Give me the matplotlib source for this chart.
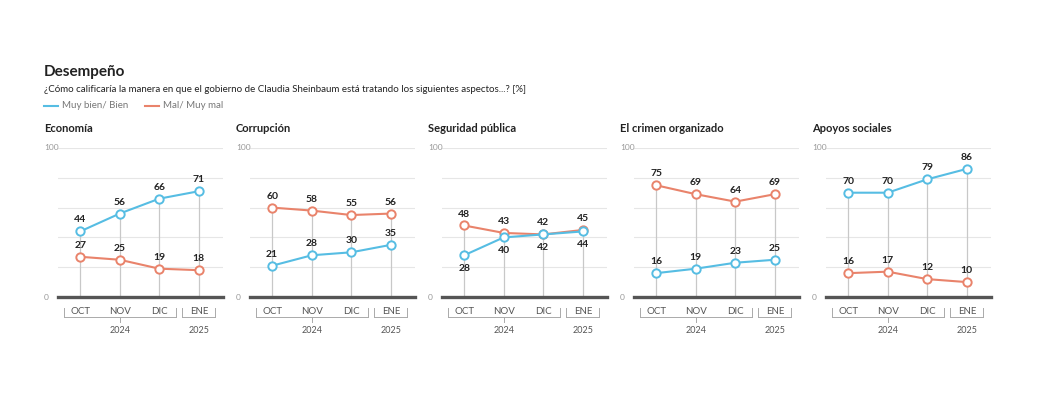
import matplotlib.pyplot as plt
from matplotlib.lines import Line2D
import matplotlib.transforms as mtransforms

titles = ["Economía", "Corrupción", "Seguridad pública", "El crimen organizado", "Apoyos sociales"]
months = ["OCT", "NOV", "DIC", "ENE"]
bien = [[44, 56, 66, 71], [21, 28, 30, 35], [28, 40, 42, 44], [16, 19, 23, 25], [70, 70, 79, 86]]
mal = [[27, 25, 19, 18], [60, 58, 55, 56], [48, 43, 42, 45], [75, 69, 64, 69], [16, 17, 12, 10]]
bien_below = [False, False, True, False, False]

BLUE = "#56bde3"
RED = "#e9836b"
W, H = 1052, 405
fig = plt.figure(figsize=(W/100, H/100), dpi=100)
plt.rcParams['font.family'] = ['Lato', 'DejaVu Sans']

fig.text(44/W, 1-72/H, "Desempeño", fontsize=11, fontweight='bold', va='center', color='#222')
fig.text(44/W, 1-89/H, "¿Cómo calificaría la manera en que el gobierno de Claudia Sheinbaum está tratando los siguientes aspectos...? [%]",
         fontsize=7, va='center', color='#222')
fig.add_artist(Line2D([44/W, 58/W], [1-106/H]*2, color=BLUE, lw=1.5))
fig.text(62/W, 1-106/H, "Muy bien/ Bien", fontsize=7, va='center', color='#777')
fig.add_artist(Line2D([145/W, 159/W], [1-106/H]*2, color=RED, lw=1.5))
fig.text(163/W, 1-106/H, "Mal/ Muy mal", fontsize=7, va='center', color='#777')

x = list(range(4))
for i in range(5):
    left = 58 + 192*i
    ax = fig.add_axes([left/W, 1-297/H, 165/W, 149/H])
    ax.set_xlim(-0.56, 3.61)
    ax.set_ylim(0, 100)
    for s in ax.spines.values():
        s.set_visible(False)
    ax.set_xticks([]); ax.set_yticks([])
    for g in [20, 40, 60, 80, 100]:
        ax.axhline(g, color='#e6e6e6', lw=0.8, zorder=0)
    ax.axhline(0, color='#555', lw=2.4, zorder=3, clip_on=False)
    for k in x:
        ax.plot([k, k], [0, max(bien[i][k], mal[i][k])], color='#c8c8c8', lw=0.9, zorder=1)
    ax.plot(x, mal[i], color=RED, lw=1.5, marker='o', ms=6, mfc='white', mec=RED, mew=1.4, zorder=4)
    ax.plot(x, bien[i], color=BLUE, lw=1.5, marker='o', ms=6, mfc='white', mec=BLUE, mew=1.4, zorder=5)
    for k in x:
        ax.annotate(str(mal[i][k]), (k, mal[i][k]), xytext=(0, 5), textcoords='offset points',
                    ha='center', va='bottom', fontsize=7.5, fontweight='bold', color='#222')
        if bien_below[i]:
            ax.annotate(str(bien[i][k]), (k, bien[i][k]), xytext=(0, -6), textcoords='offset points',
                        ha='center', va='top', fontsize=7.5, fontweight='bold', color='#222')
        else:
            ax.annotate(str(bien[i][k]), (k, bien[i][k]), xytext=(0, 5), textcoords='offset points',
                        ha='center', va='bottom', fontsize=7.5, fontweight='bold', color='#222')
    fig.text((left-14)/W, 1-148/H, "100", fontsize=6, color='#999', va='center', ha='left')
    fig.text((left-14)/W, 1-297/H, "0", fontsize=6, color='#999', va='center', ha='left')
    fig.text((left-14)/W, 1-129/H, titles[i], fontsize=8, fontweight='bold', color='#222', va='center')
    tr = mtransforms.blended_transform_factory(ax.transData, ax.transAxes)
    for k, m in enumerate(months):
        ax.text(k, -0.095, m, transform=tr, ha='center', va='center', fontsize=7, color='#555')
    yb = -0.135
    for (a, b) in [(-0.42, 2.42), (2.58, 3.42)]:
        ax.add_artist(Line2D([a, b], [yb, yb], transform=tr, color='#aaa', lw=0.7, clip_on=False))
        for e in (a, b):
            ax.add_artist(Line2D([e, e], [yb, yb+0.06], transform=tr, color='#aaa', lw=0.7, clip_on=False))
    ax.add_artist(Line2D([1, 1], [yb, yb-0.03], transform=tr, color='#aaa', lw=0.7, clip_on=False))
    ax.text(1, -0.225, "2024", transform=tr, ha='center', va='center', fontsize=6.5, color='#555')
    ax.text(3, -0.225, "2025", transform=tr, ha='center', va='center', fontsize=6.5, color='#555')

fig.savefig("out.png", dpi=100, facecolor='white')
